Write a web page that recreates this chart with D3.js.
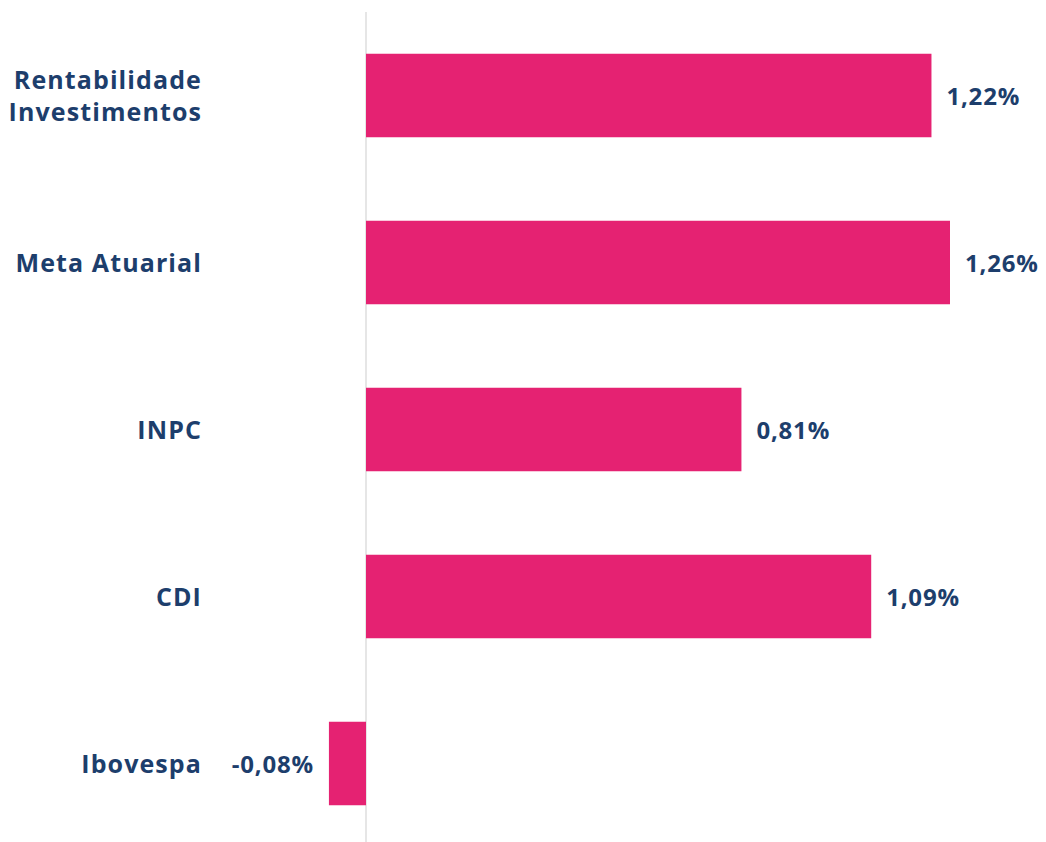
<!DOCTYPE html>
<html><head><meta charset="utf-8">
<script src="https://cdn.jsdelivr.net/npm/d3@7"></script>
<style>body{margin:0;background:#fff}svg{display:block}text{font-family:"Open Sans",Lato,sans-serif;font-weight:700;fill:#1d3e6c}</style>
</head><body>
<svg id="c" width="1046" height="842"></svg>
<script>
const categories = [["Rentabilidade","Investimentos"],["Meta Atuarial"],["INPC"],["CDI"],["Ibovespa"]];
const values = [1.22, 1.26, 0.81, 1.09, -0.08];
const valueLabels = ["1,22%","1,26%","0,81%","1,09%","-0,08%"];

const svg = d3.select("#c");
const x = d3.scaleLinear().domain([0, 1.26]).range([366, 950]);
const y = d3.scaleBand().domain(d3.range(values.length)).range([12, 847]).paddingInner(0.5).paddingOuter(0.25);

svg.append("line").attr("x1", x(0)).attr("x2", x(0)).attr("y1", 12).attr("y2", 842)
  .attr("stroke", "#e6e6e6").attr("stroke-width", 2);

svg.selectAll("rect.bar").data(values).join("rect").attr("class","bar")
  .attr("x", d => x(Math.min(0,d)))
  .attr("width", d => Math.abs(x(d)-x(0)))
  .attr("y", (d,i) => y(i)).attr("height", y.bandwidth())
  .attr("fill", "#e52272");

const lab = svg.selectAll("text.cat").data(categories).join("text").attr("class","cat")
  .attr("text-anchor","end").attr("font-size", 25).attr("letter-spacing", 1.1)
  .attr("x", 201)
  .attr("y", (d,i) => y(i) + y.bandwidth()/2 - (d.length-1)*16 + 9);
lab.selectAll("tspan").data(d => d).join("tspan")
  .attr("x", 202).attr("dy", (d,j) => j ? 32 : 0).text(d => d);

svg.selectAll("text.val").data(values).join("text").attr("class","val")
  .attr("font-size", 24).attr("letter-spacing", 0.8)
  .attr("text-anchor", d => d < 0 ? "end" : "start")
  .attr("x", d => d < 0 ? x(d) - 15 : x(d) + 15)
  .attr("y", (d,i) => y(i) + y.bandwidth()/2 + 9)
  .text((d,i) => valueLabels[i]);
</script>
</body></html>
